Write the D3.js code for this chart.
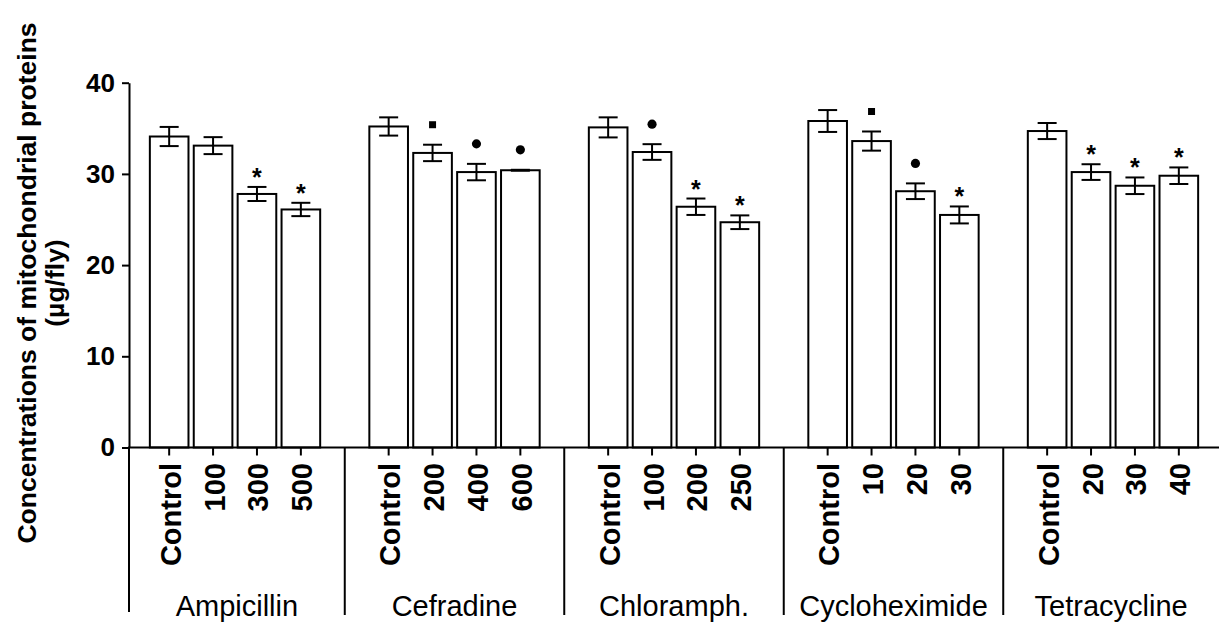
<!DOCTYPE html>
<html>
<head>
<meta charset="utf-8">
<script src="https://cdn.jsdelivr.net/npm/d3@7"></script>
<style>
  body { margin: 0; background: #fff; }
  text { font-family: "Liberation Sans", Arial, sans-serif; }
</style>
</head>
<body>
<div class="container"></div>
<script>
const w = 1219;
const h = 625;

// data
const groups = ['Ampicillin', 'Cefradine', 'Chloramph.', 'Cycloheximide', 'Tetracycline'];
const doses = [
  ['Control', '100', '300', '500'],
  ['Control', '200', '400', '600'],
  ['Control', '100', '200', '250'],
  ['Control', '10', '20', '30'],
  ['Control', '20', '30', '40']
];
const means = [
  [34.1, 33.1, 27.8, 26.1],
  [35.2, 32.3, 30.2, 30.4],
  [35.1, 32.4, 26.4, 24.7],
  [35.8, 33.6, 28.1, 25.5],
  [34.7, 30.2, 28.7, 29.8]
];
const errors = [
  [1.05, 0.93, 0.77, 0.73],
  [1.0, 0.9, 0.9, 0.05],
  [1.1, 0.86, 0.9, 0.75],
  [1.2, 1.05, 0.86, 0.93],
  [0.88, 0.86, 0.91, 0.91]
];
// '*' asterisk, 'sq' square, 'ci' circle
const marks = [
  ['', '', '*', '*'],
  ['', 'sq', 'ci', 'ci'],
  ['', 'ci', '*', '*'],
  ['', 'sq', 'ci', '*'],
  ['', '*', '*', '*']
];
const yTicks = [0, 10, 20, 30, 40];

const plotLeft = 129;
const plotRight = 1219;
const plotTop = 82.7;
const plotBase = 447.5;
const perGroup = 5; // 4 bars + 1 gap slot

// flatten to rows
const rows = [];
groups.forEach((g, gi) => {
  doses[gi].forEach((d, i) => {
    rows.push({ group: g, dose: d, slot: gi * perGroup + i, mean: means[gi][i], err: errors[gi][i], mark: marks[gi][i] });
  });
});
const slotCount = groups.length * perGroup - 1;

const xScale = d3.scalePoint()
  .domain(d3.range(slotCount))
  .range([plotLeft, plotRight])
  .padding(0.915);
const barW = xScale.step() * 0.88;

const yScale = d3.scaleLinear()
  .domain([0, 40])
  .range([plotBase, plotTop]);

const svg = d3.select('.container')
  .append('svg')
  .attr('width', w)
  .attr('height', h)
  .style('display', 'block');

// bars
svg.selectAll('.bar')
  .data(rows)
  .enter()
  .append('rect')
  .attr('class', 'bar')
  .attr('x', (d) => xScale(d.slot) - barW / 2)
  .attr('y', (d) => yScale(d.mean))
  .attr('width', barW)
  .attr('height', (d) => plotBase - yScale(d.mean))
  .attr('fill', '#fff')
  .attr('stroke', '#000')
  .attr('stroke-width', 2);

// error bars
const capW = 9.5;
const eb = svg.selectAll('.err')
  .data(rows)
  .enter()
  .append('g')
  .attr('class', 'err')
  .attr('stroke', '#000')
  .attr('stroke-width', 2);
eb.append('line')
  .attr('x1', (d) => xScale(d.slot))
  .attr('x2', (d) => xScale(d.slot))
  .attr('y1', (d) => yScale(d.mean + d.err))
  .attr('y2', (d) => yScale(d.mean - d.err));
eb.append('line')
  .attr('x1', (d) => xScale(d.slot) - capW)
  .attr('x2', (d) => xScale(d.slot) + capW)
  .attr('y1', (d) => yScale(d.mean + d.err))
  .attr('y2', (d) => yScale(d.mean + d.err));
eb.append('line')
  .attr('x1', (d) => xScale(d.slot) - capW)
  .attr('x2', (d) => xScale(d.slot) + capW)
  .attr('y1', (d) => yScale(d.mean - d.err))
  .attr('y2', (d) => yScale(d.mean - d.err));

// significance marks
svg.selectAll('.star')
  .data(rows.filter((d) => d.mark === '*'))
  .enter()
  .append('text')
  .attr('class', 'star')
  .attr('x', (d) => xScale(d.slot))
  .attr('y', (d) => yScale(d.mean + d.err) - 15 + 14)
  .attr('text-anchor', 'middle')
  .style('font-size', '25px')
  .style('font-weight', 'bold')
  .text('*');
svg.selectAll('.sym')
  .data(rows.filter((d) => d.mark === 'sq' || d.mark === 'ci'))
  .enter()
  .append('path')
  .attr('class', 'sym')
  .attr('transform', (d) => 'translate(' + xScale(d.slot) + ',' + (yScale(d.mean + d.err) - 20) + ')')
  .attr('d', (d) => d3.symbol(d.mark === 'sq' ? d3.symbolSquare : d3.symbolCircle, d.mark === 'sq' ? 49 : 66)())
  .attr('fill', '#000');

// y axis
const yAxis = d3.axisLeft(yScale)
  .tickValues(yTicks)
  .tickSize(7)
  .tickSizeOuter(0)
  .tickPadding(7);
const yg = svg.append('g')
  .attr('transform', 'translate(' + plotLeft + ',0)')
  .call(yAxis);
yg.selectAll('path, line').attr('stroke', '#000').attr('stroke-width', 2);
yg.selectAll('text')
  .attr('fill', '#000')
  .style('font-family', '"Liberation Sans", Arial, sans-serif')
  .style('font-size', '26px')
  .style('font-weight', 'bold');

// x axis line and ticks
svg.append('line')
  .attr('x1', plotLeft - 1)
  .attr('x2', plotRight)
  .attr('y1', plotBase)
  .attr('y2', plotBase)
  .attr('stroke', '#000')
  .attr('stroke-width', 2);
svg.selectAll('.xtick')
  .data(d3.range(slotCount))
  .enter()
  .append('line')
  .attr('class', 'xtick')
  .attr('x1', (d) => xScale(d))
  .attr('x2', (d) => xScale(d))
  .attr('y1', plotBase)
  .attr('y2', (d) => (d % perGroup === perGroup - 1 ? 615 : plotBase + 8))
  .attr('stroke', '#000')
  .attr('stroke-width', 2);
// left group boundary
svg.append('line')
  .attr('x1', plotLeft)
  .attr('x2', plotLeft)
  .attr('y1', plotBase)
  .attr('y2', 612)
  .attr('stroke', '#000')
  .attr('stroke-width', 2);

// dose labels
svg.selectAll('.dose')
  .data(rows)
  .enter()
  .append('text')
  .attr('class', 'dose')
  .attr('transform', (d) => 'translate(' + (xScale(d.slot) + 11.5) + ',' + 463 + ') rotate(-90)')
  .attr('text-anchor', 'end')
  .style('font-size', '29px')
  .style('font-weight', 'bold')
  .text((d) => d.dose);

// group labels
svg.selectAll('.grp')
  .data(groups)
  .enter()
  .append('text')
  .attr('class', 'grp')
  .attr('x', (d, i) => {
    const a = i === 0 ? plotLeft : xScale(i * perGroup - 1);
    const b = i === groups.length - 1 ? plotRight : xScale(i * perGroup + perGroup - 1);
    return (a + b) / 2;
  })
  .attr('y', 616)
  .attr('text-anchor', 'middle')
  .style('font-size', '29px')
  .text((d) => d);

// y axis title
const titleY = 283;
svg.append('text')
  .attr('transform', 'translate(36,' + titleY + ') rotate(-90)')
  .attr('text-anchor', 'middle')
  .style('font-size', '26.5px')
  .style('font-weight', 'bold')
  .text('Concentrations of mitochondrial proteins');
svg.append('text')
  .attr('transform', 'translate(64,' + titleY + ') rotate(-90)')
  .attr('text-anchor', 'middle')
  .style('font-size', '26.5px')
  .style('font-weight', 'bold')
  .text('(µg/fly)');
</script>
</body>
</html>
